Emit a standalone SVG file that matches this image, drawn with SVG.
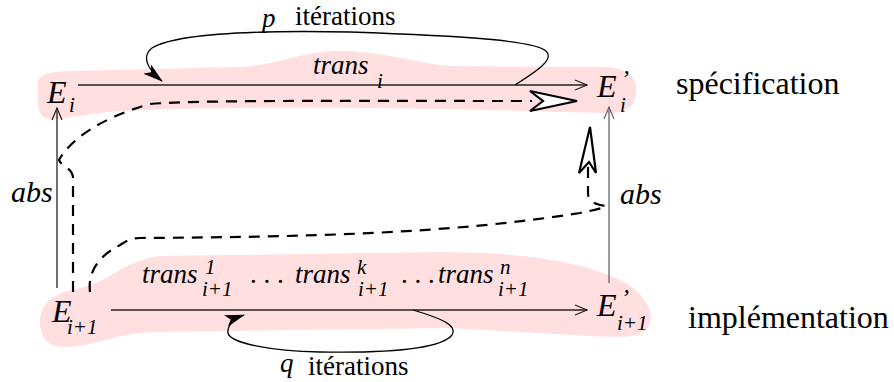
<svg xmlns="http://www.w3.org/2000/svg" width="894" height="382" viewBox="0 0 894 382">
<style>
  .blob { fill: #ffdfdf; stroke: none; }
  .it { font-style: italic; }
  .big { font-size: 32px; }
  .sub { font-size: 21px; }
  .mid { font-size: 27px; }
  .line { fill: none; stroke: #222; stroke-width: 1.3; }
  .grey { stroke: #666; }
  .loop { fill: none; stroke: #000; stroke-width: 1.3; }
  .dash { fill: none; stroke: #000; stroke-width: 2.2; stroke-dasharray: 11 8; }
  .head { fill: #fff; stroke: #000; stroke-width: 2.2; stroke-linejoin: miter; }
</style>
<defs>
  <marker id="open" viewBox="0 0 14 12" refX="13" refY="6" markerWidth="14" markerHeight="12" markerUnits="userSpaceOnUse" orient="auto">
    <path d="M1,1 L13,6 L1,11" fill="none" stroke="#222" stroke-width="1.2"/>
  </marker>
  <marker id="openg" viewBox="0 0 14 12" refX="13" refY="6" markerWidth="14" markerHeight="12" markerUnits="userSpaceOnUse" orient="auto">
    <path d="M1,1 L13,6 L1,11" fill="none" stroke="#666" stroke-width="1.2"/>
  </marker>
  <marker id="filled" viewBox="0 0 20 12" refX="19" refY="6" markerWidth="20" markerHeight="12" markerUnits="userSpaceOnUse" orient="auto">
    <path d="M0,0 L20,6 L0,12 L5,6 Z" fill="#000"/>
  </marker>
</defs>

<g id="spec-band">
  <path class="blob" d="M38,85 C38,74 48,72 70,71 L240,67 C285,64 300,51 340,51 C380,51 410,62 450,66 L600,67 C625,67 637,74 636,92 C635,108 625,114 605,113 L450,109 C330,107 200,107 120,111 C80,114 60,121 48,119 C40,117 38,110 38,100 Z"/>
</g>
<g id="impl-band">
  <path class="blob" d="M40,322 C40,302 55,293 80,288 C110,282 120,262 160,256 L440,252 C520,252 585,262 620,280 C650,295 660,322 642,333 C632,338 612,337 590,336 L450,328 L150,332 C110,335 92,347 65,347 C46,347 40,336 40,322 Z"/>
</g>

<g id="connectors">
  <line class="line" x1="78" y1="85" x2="587" y2="85" marker-end="url(#open)"/>
  <line class="line" x1="111" y1="310" x2="587" y2="310" marker-end="url(#open)"/>
  <line class="line" x1="57" y1="288" x2="57" y2="108" marker-end="url(#open)"/>
  <line class="line grey" x1="609" y1="283" x2="609" y2="107" marker-end="url(#openg)"/>
  <path class="loop" d="M515,85 C535,72 555,60 546,51 C535,41 470,36 350,32 C250,30 175,34 152,48 C142,56 146,68 162,81" marker-end="url(#filled)"/>
  <path class="loop" d="M413,310 C440,318 458,325 452,335 C440,350 380,353 320,352 C270,351 230,343 228,333 C227,325 235,318 244,315" marker-end="url(#filled)"/>
  <path class="dash" d="M73,292 L73,178 C73,168 62,167 59,160 C70,140 100,118 150,104 C200,100 320,101 532,101"/>
  <polygon class="head" points="577,101 530,91 543,101 530,111"/>
  <path class="dash" d="M90,292 C88,275 95,258 120,245 C128,240 132,238 140,238 C300,237 450,234 580,213 C595,210 603,208 606,206 C598,205 588,203 588,193 L588,165"/>
  <polygon class="head" points="590,127 579,173 589,162 596,173"/>
</g>

<g font-family="Liberation Serif, Times New Roman, Tinos, DejaVu Serif, serif" fill="#000">
<g id="labels">
  <text class="it mid" x="262" y="27">p</text>
  <text class="mid" x="295" y="25">itérations</text>
  <text class="it mid" x="313" y="74">trans</text>
  <text class="it sub" x="377" y="88">i</text>
  <text class="it mid" x="280" y="372">q</text>
  <text class="mid" x="308" y="375">itérations</text>
  <text class="it" font-size="30" x="11" y="202">abs</text>
  <text class="it" font-size="30" x="620" y="204">abs</text>
  <text class="big" x="676" y="94">spécification</text>
  <text class="big" x="688" y="328">implémentation</text>
</g>

<g id="node-Ei">
  <text class="it big" x="47" y="103">E</text>
  <text class="it sub" x="69" y="112">i</text>
</g>
<g id="node-Epi">
  <text class="it big" x="597" y="97">E</text>
  <text class="it" font-size="24" x="621" y="86">’</text>
  <text class="it sub" x="620" y="112">i</text>
</g>
<g id="node-Ei1">
  <text class="it big" x="52" y="322">E</text>
  <text class="it sub" x="67" y="334">i+1</text>
</g>
<g id="node-Epi1">
  <text class="it big" x="597" y="316">E</text>
  <text class="it" font-size="24" x="621" y="305">’</text>
  <text class="it sub" x="617" y="330">i+1</text>
</g>

<g id="trans-labels">
  <text class="it mid" x="142" y="283">trans</text>
  <text class="it sub" x="205" y="274">1</text>
  <text class="it sub" x="202" y="296">i+1</text>
  <text class="mid" x="250" y="283">. . .</text>
  <text class="it mid" x="295" y="283">trans</text>
  <text class="it sub" x="357" y="274">k</text>
  <text class="it sub" x="358" y="296">i+1</text>
  <text class="mid" x="401" y="283">. . .</text>
  <text class="it mid" x="438" y="283">trans</text>
  <text class="it sub" x="500" y="274">n</text>
  <text class="it sub" x="498" y="296">i+1</text>
</g>
</g>
</svg>
